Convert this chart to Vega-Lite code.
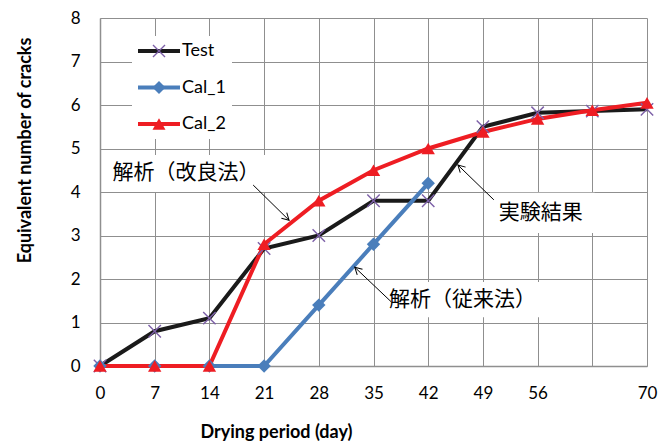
{
  "$schema": "https://vega.github.io/schema/vega-lite/v6.json",
  "autosize": "none",
  "width": 547,
  "height": 348,
  "padding": {"left": 100, "top": 18, "right": 21, "bottom": 75},
  "background": "white",
  "datasets": {
    "series": [
      {"day": 0, "value": 0, "series": "Test"},
      {"day": 7, "value": 0.8, "series": "Test"},
      {"day": 14, "value": 1.1, "series": "Test"},
      {"day": 21, "value": 2.7, "series": "Test"},
      {"day": 28, "value": 3.0, "series": "Test"},
      {"day": 35, "value": 3.8, "series": "Test"},
      {"day": 42, "value": 3.8, "series": "Test"},
      {"day": 49, "value": 5.5, "series": "Test"},
      {"day": 56, "value": 5.82, "series": "Test"},
      {"day": 63, "value": 5.86, "series": "Test"},
      {"day": 70, "value": 5.9, "series": "Test"},
      {"day": 0, "value": 0, "series": "Cal_1"},
      {"day": 7, "value": 0, "series": "Cal_1"},
      {"day": 14, "value": 0, "series": "Cal_1"},
      {"day": 21, "value": 0, "series": "Cal_1"},
      {"day": 28, "value": 1.4, "series": "Cal_1"},
      {"day": 35, "value": 2.8, "series": "Cal_1"},
      {"day": 42, "value": 4.2, "series": "Cal_1"},
      {"day": 0, "value": 0, "series": "Cal_2"},
      {"day": 7, "value": 0, "series": "Cal_2"},
      {"day": 14, "value": 0, "series": "Cal_2"},
      {"day": 21, "value": 2.8, "series": "Cal_2"},
      {"day": 28, "value": 3.8, "series": "Cal_2"},
      {"day": 35, "value": 4.5, "series": "Cal_2"},
      {"day": 42, "value": 5.0, "series": "Cal_2"},
      {"day": 49, "value": 5.38, "series": "Cal_2"},
      {"day": 56, "value": 5.68, "series": "Cal_2"},
      {"day": 63, "value": 5.88, "series": "Cal_2"},
      {"day": 70, "value": 6.05, "series": "Cal_2"}
    ],
    "notes": [
      {"label": "解析（改良法）", "tx": 11.0, "ty": 4.44, "ax1": 19.6, "ay1": 4.16, "ax2": 24.2, "ay2": 3.35, "angle": 44, "bx1": 1.3, "bx2": 21.2, "by1": 4.0, "by2": 4.85},
      {"label": "実験結果", "tx": 56.4, "ty": 3.52, "ax1": 50.4, "ay1": 3.82, "ax2": 45.8, "ay2": 4.62, "angle": 224, "bx1": 49.9, "bx2": 63.3, "by1": 3.06, "by2": 3.98},
      {"label": "解析（従来法）", "tx": 46.4, "ty": 1.51, "ax1": 37.3, "ay1": 1.47, "ax2": 32.6, "ay2": 2.27, "angle": 223, "bx1": 36.8, "bx2": 56.3, "by1": 1.12, "by2": 1.93}
    ]
  },
  "layer": [
    {
      "data": {"name": "notes"},
      "mark": {"type": "rect", "fill": "white"},
      "encoding": {
        "x": {
          "field": "bx1", "type": "quantitative",
          "scale": {"domain": [0, 70], "nice": false, "zero": false},
          "axis": {
            "title": "Drying period (day)",
            "values": [0, 7, 14, 21, 28, 35, 42, 49, 56, 63, 70],
            "labelExpr": "datum.value == 63 ? '' : datum.label",
            "labelPadding": 19, "labelFlush": false,
            "titleX": 176, "titleY": 66, "titleAlign": "center", "titleBaseline": "middle"
          }
        },
        "x2": {"field": "bx2"},
        "y": {
          "field": "by1", "type": "quantitative",
          "scale": {"domain": [0, 8], "nice": false},
          "axis": {
            "title": "Equivalent number of cracks",
            "values": [0, 1, 2, 3, 4, 5, 6, 7, 8],
            "labelPadding": 20, "labelFlush": false,
            "titleX": -75, "titleY": 132, "titleAlign": "center", "titleBaseline": "middle", "titleAngle": -90
          }
        },
        "y2": {"field": "by2"}
      }
    },
    {
      "data": {"name": "series"},
      "mark": {"type": "line", "strokeWidth": 4},
      "encoding": {
        "x": {"field": "day", "type": "quantitative"},
        "y": {"field": "value", "type": "quantitative"},
        "color": {
          "field": "series", "type": "nominal",
          "scale": {"domain": ["Test", "Cal_1", "Cal_2"], "range": ["#1a1a1a", "#4a7ebb", "#ee1d23"]},
          "legend": {
            "title": null, "orient": "none", "legendX": 32, "legendY": 18,
            "padding": 6, "fillColor": "white", "strokeColor": null,
            "symbolType": "M-3.23,0H3.23", "symbolSize": 169, "symbolStrokeWidth": 4,
            "symbolOffset": 12, "labelOffset": 14, "rowPadding": 18.5,
            "labelFont": "Lato", "labelFontSize": 18, "labelColor": "black"
          }
        }
      }
    },
    {
      "data": {"name": "series"},
      "mark": {"type": "point", "filled": true, "opacity": 1, "size": 180, "strokeWidth": 0},
      "encoding": {
        "x": {"field": "day", "type": "quantitative"},
        "y": {"field": "value", "type": "quantitative"},
        "color": {
          "field": "series", "type": "nominal",
          "scale": {"domain": ["Test", "Cal_1", "Cal_2"], "range": ["#7d60a8", "#4a7ebb", "#ee1d23"]},
          "legend": {
            "title": null, "orient": "none", "legendX": 32, "legendY": 18,
            "padding": 6, "symbolSize": 169, "symbolStrokeWidth": 0,
            "symbolOffset": 12, "labelOffset": 14, "rowPadding": 18.5,
            "labelFont": "Lato", "labelFontSize": 18, "labelOpacity": 0
          }
        },
        "shape": {
          "field": "series", "type": "nominal",
          "scale": {"domain": ["Test", "Cal_1", "Cal_2"], "range": ["M-1,-0.85L-0.85,-1L0,-0.15L0.85,-1L1,-0.85L0.15,0L1,0.85L0.85,1L0,0.15L-0.85,1L-1,0.85L-0.15,0Z", "diamond", "triangle-up"]},
          "legend": {
            "title": null, "orient": "none", "legendX": 32, "legendY": 18,
            "padding": 6, "symbolSize": 169, "symbolStrokeWidth": 0,
            "symbolOffset": 12, "labelOffset": 14, "rowPadding": 18.5,
            "labelFont": "Lato", "labelFontSize": 18, "labelOpacity": 0
          }
        }
      }
    },
    {
      "data": {"name": "notes"},
      "mark": {"type": "rule", "color": "black", "strokeWidth": 1},
      "encoding": {
        "x": {"field": "ax1", "type": "quantitative"},
        "y": {"field": "ay1", "type": "quantitative"},
        "x2": {"field": "ax2"},
        "y2": {"field": "ay2"}
      }
    },
    {
      "data": {"name": "notes"},
      "mark": {"type": "point", "shape": "M-1,-0.55L0,0L-1,0.55", "filled": false, "stroke": "black", "strokeWidth": 1, "opacity": 1, "size": 196},
      "encoding": {
        "x": {"field": "ax2", "type": "quantitative"},
        "y": {"field": "ay2", "type": "quantitative"},
        "angle": {"field": "angle", "type": "quantitative", "scale": null}
      }
    },
    {
      "data": {"name": "notes"},
      "mark": {"type": "text", "font": "Noto Sans CJK JP", "fontSize": 21, "color": "black", "align": "center", "baseline": "middle"},
      "encoding": {
        "x": {"field": "tx", "type": "quantitative"},
        "y": {"field": "ty", "type": "quantitative"},
        "text": {"field": "label"}
      }
    }
  ],
  "resolve": {"scale": {"color": "independent", "shape": "independent"}},
  "config": {
    "font": "Lato",
    "view": {"stroke": null},
    "axis": {
      "labelFont": "Lato", "labelFontSize": 17, "labelColor": "black",
      "titleFont": "Lato", "titleFontSize": 18, "titleFontWeight": "bold", "titleColor": "black",
      "gridColor": "#8f8f8f", "gridWidth": 1, "grid": true,
      "domainColor": "#8f8f8f", "domainWidth": 1.5,
      "ticks": false, "tickSize": 0
    }
  }
}
